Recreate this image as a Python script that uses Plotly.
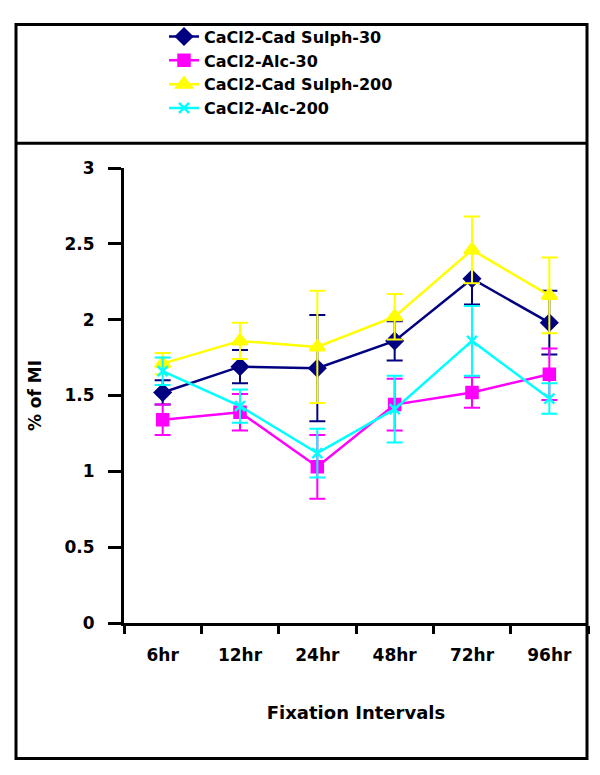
import plotly.graph_objects as go

categories = ["6hr", "12hr", "24hr", "48hr", "72hr", "96hr"]

cad30 = [1.52, 1.69, 1.68, 1.86, 2.27, 1.98]
cad30_err = [0.08, 0.11, 0.35, 0.13, 0.17, 0.21]

alc30 = [1.34, 1.39, 1.03, 1.44, 1.52, 1.64]
alc30_err = [0.10, 0.12, 0.21, 0.17, 0.10, 0.17]

cad200 = [1.71, 1.86, 1.82, 2.02, 2.46, 2.16]
cad200_err = [0.07, 0.12, 0.37, 0.15, 0.22, 0.25]

alc200 = [1.66, 1.43, 1.12, 1.41, 1.86, 1.48]
alc200_err = [0.09, 0.11, 0.16, 0.22, 0.23, 0.10]

series = [
    ("CaCl2-Cad Sulph-30", cad30, cad30_err, "#000080", "diamond", 12),
    ("CaCl2-Alc-30", alc30, alc30_err, "#FF00FF", "square", 11),
    ("CaCl2-Cad Sulph-200", cad200, cad200_err, "#FFFF00", "triangle-up", 13),
    ("CaCl2-Alc-200", alc200, alc200_err, "#00FFFF", "x-thin", 10),
]

FONT = "DejaVu Sans"

fig = go.Figure()
for name, vals, errs, color, sym, size in series:
    fig.add_trace(go.Scatter(
        x=categories, y=vals, name=name, mode="lines+markers",
        line=dict(color=color, width=2.5),
        marker=dict(symbol=sym, size=size, color=color,
                    line=dict(color=color, width=2.5)),
        error_y=dict(type="data", array=errs, visible=True,
                     color=color, thickness=2, width=8),
    ))

# page has an 8px body margin; figure origin sits at (8, 8) on the page
OFF = 8
W, H = 600 - OFF, 775 - OFF
# plot area in page pixels
L, R, T, B = 124, 588, 163, 623


def px_x(p):
    return (p - L) / (R - L)


def px_y(p):
    return (B - p) / (B - T)


shapes = [
    dict(type="rect", xref="paper", yref="paper",
         x0=px_x(16), x1=px_x(587), y0=px_y(760), y1=px_y(18),
         line=dict(color="black", width=3), fillcolor="rgba(0,0,0,0)"),
    dict(type="line", xref="paper", yref="paper",
         x0=px_x(16), x1=px_x(587), y0=px_y(138), y1=px_y(138),
         line=dict(color="black", width=3)),
]

fig.update_layout(
    width=W, height=H,
    margin=dict(l=L - OFF, r=W - (R - OFF), t=T - OFF, b=H - (B - OFF), pad=0),
    paper_bgcolor="white", plot_bgcolor="white",
    font=dict(family=FONT, size=17, color="black", weight="bold"),
    shapes=shapes,
    showlegend=True,
    legend=dict(x=px_x(164), y=px_y(13), xanchor="left", yanchor="top",
                bgcolor="rgba(0,0,0,0)",
                font=dict(family=FONT, size=16, color="black", weight="bold"),
                tracegroupgap=0),
    xaxis=dict(
        type="category", range=[-0.5, 5.5],
        showline=True, linecolor="black", linewidth=3,
        ticks="outside", tickson="boundaries", ticklen=8, tickwidth=3,
        tickcolor="black", showgrid=False, zeroline=False,
        ticklabelstandoff=15,
        title=dict(text="Fixation Intervals", standoff=42,
                   font=dict(family=FONT, size=18, weight="bold")),
    ),
    yaxis=dict(
        range=[0, 3], dtick=0.5, tick0=0,
        showline=True, linecolor="black", linewidth=3,
        ticks="outside", ticklen=13, tickwidth=3, tickcolor="black",
        showgrid=False, zeroline=False, ticklabelstandoff=10,
        title=dict(text="% of MI", standoff=19,
                   font=dict(family=FONT, size=17, weight="bold")),
    ),
)

fig.write_html("out.html")
